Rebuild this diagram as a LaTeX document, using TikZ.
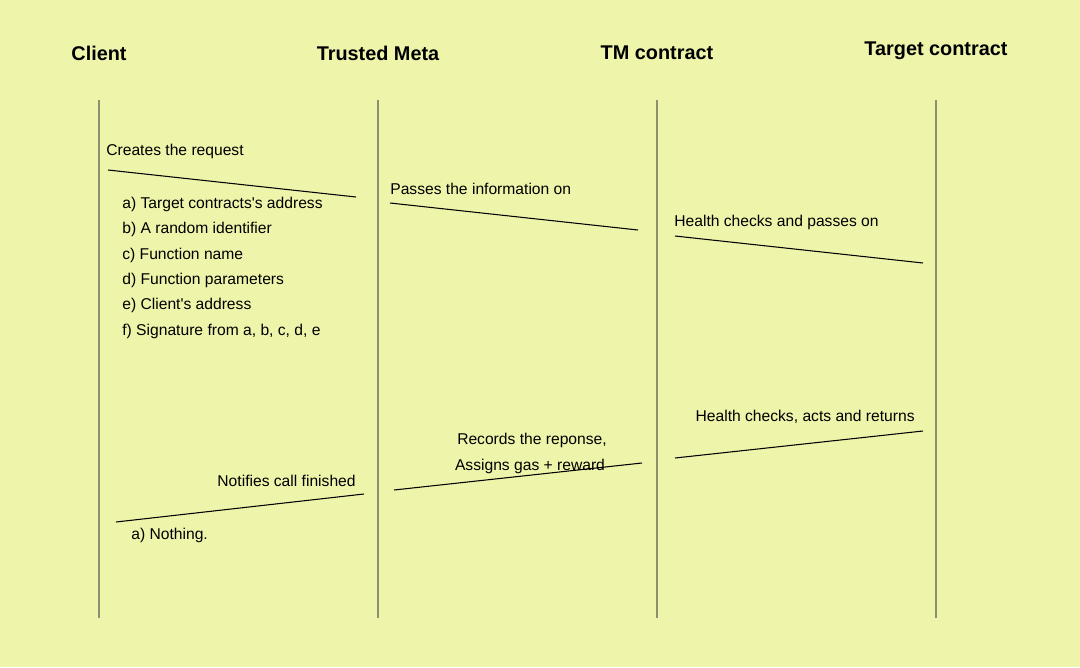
\documentclass[tikz,border=0pt]{standalone}
\usepackage{fontspec}
\setmainfont{Liberation Sans}
\usepackage{tikz}
\definecolor{bgyellow}{RGB}{238,244,170}
\definecolor{lifegray}{RGB}{140,144,112}
\tikzset{
  life/.style={lifegray, line width=1.2pt},
  msg/.style={black, line width=0.6pt},
  head/.style={font=\fontsize{11.3}{13}\selectfont\bfseries, inner sep=0pt},
  lbl/.style={font=\fontsize{8.9}{10}\selectfont, inner sep=0pt},
}
\begin{document}
\begin{tikzpicture}[x=0.02cm, y=-0.02cm]
\fill [bgyellow] (0,0) rectangle (1080,667);
\useasboundingbox (0,0) rectangle (1080,667);
%
\node [head] (client) at (99,53) {Client};
\node [head] (tmeta) at (378,53) {Trusted Meta};
\node [head] (tmc) at (657,53) {TM contract};
\node [head] (target) at (936,51) {Target contract};
%
\coordinate (c0) at (99,100);   \coordinate (c1) at (99,618);
\coordinate (m0) at (378,100);  \coordinate (m1) at (378,618);
\coordinate (t0) at (657,100);  \coordinate (t1) at (657,618);
\coordinate (g0) at (936,100);  \coordinate (g1) at (936,618);
\draw [life] (c0) -- (c1);
\draw [life] (m0) -- (m1);
\draw [life] (t0) -- (t1);
\draw [life] (g0) -- (g1);
%
% request goes out
\coordinate (r1a) at (108,170); \coordinate (r1b) at (356,197);
\coordinate (r2a) at (390,203); \coordinate (r2b) at (638,230);
\coordinate (r3a) at (675,236); \coordinate (r3b) at (923,263);
\draw [msg] (r1a) -- (r1b);
\draw [msg] (r2a) -- (r2b);
\draw [msg] (r3a) -- (r3b);
%
\node [lbl, anchor=west] (create) at (106,151) {Creates the request};
\node [lbl, anchor=west] (ia) at (122,204) {a) Target contracts\textquotesingle s address};
\node [lbl, anchor=west] (ib) at (122,229) {b) A random identifier};
\node [lbl, anchor=west] (ic) at (122,255) {c) Function name};
\node [lbl, anchor=west] (id) at (122,280) {d) Function parameters};
\node [lbl, anchor=west] (ie) at (122,305) {e) Client\textquotesingle s address};
\node [lbl, anchor=west] (if) at (122,331) {f) Signature from a, b, c, d, e};
\node [lbl, anchor=west] (pass) at (390,189) {Passes the information on};
\node [lbl, anchor=west] (hcpass) at (674,222) {Health checks and passes on};
%
% answer comes back
\coordinate (s1a) at (923,431); \coordinate (s1b) at (675,458);
\coordinate (s2a) at (642,463); \coordinate (s2b) at (394,490);
\coordinate (s3a) at (364,494); \coordinate (s3b) at (116,522);
\draw [msg] (s1a) -- (s1b);
\draw [msg] (s2a) -- (s2b);
\draw [msg] (s3a) -- (s3b);
%
\node [lbl, anchor=east] (hcacts) at (915,417) {Health checks, acts and returns};
\node [lbl] (record) at (532,440) {Records the reponse,};
\node [lbl] (assign) at (530,466) {Assigns gas + reward};
\node [lbl, anchor=east] (notify) at (356,481) {Notifies call finished};
\node [lbl, anchor=west] (nothing) at (131,535) {a) Nothing.};
%%%%%%%%%%%%%%%%%%%%%%%%%%%%%%%
\end{tikzpicture}
\end{document}
